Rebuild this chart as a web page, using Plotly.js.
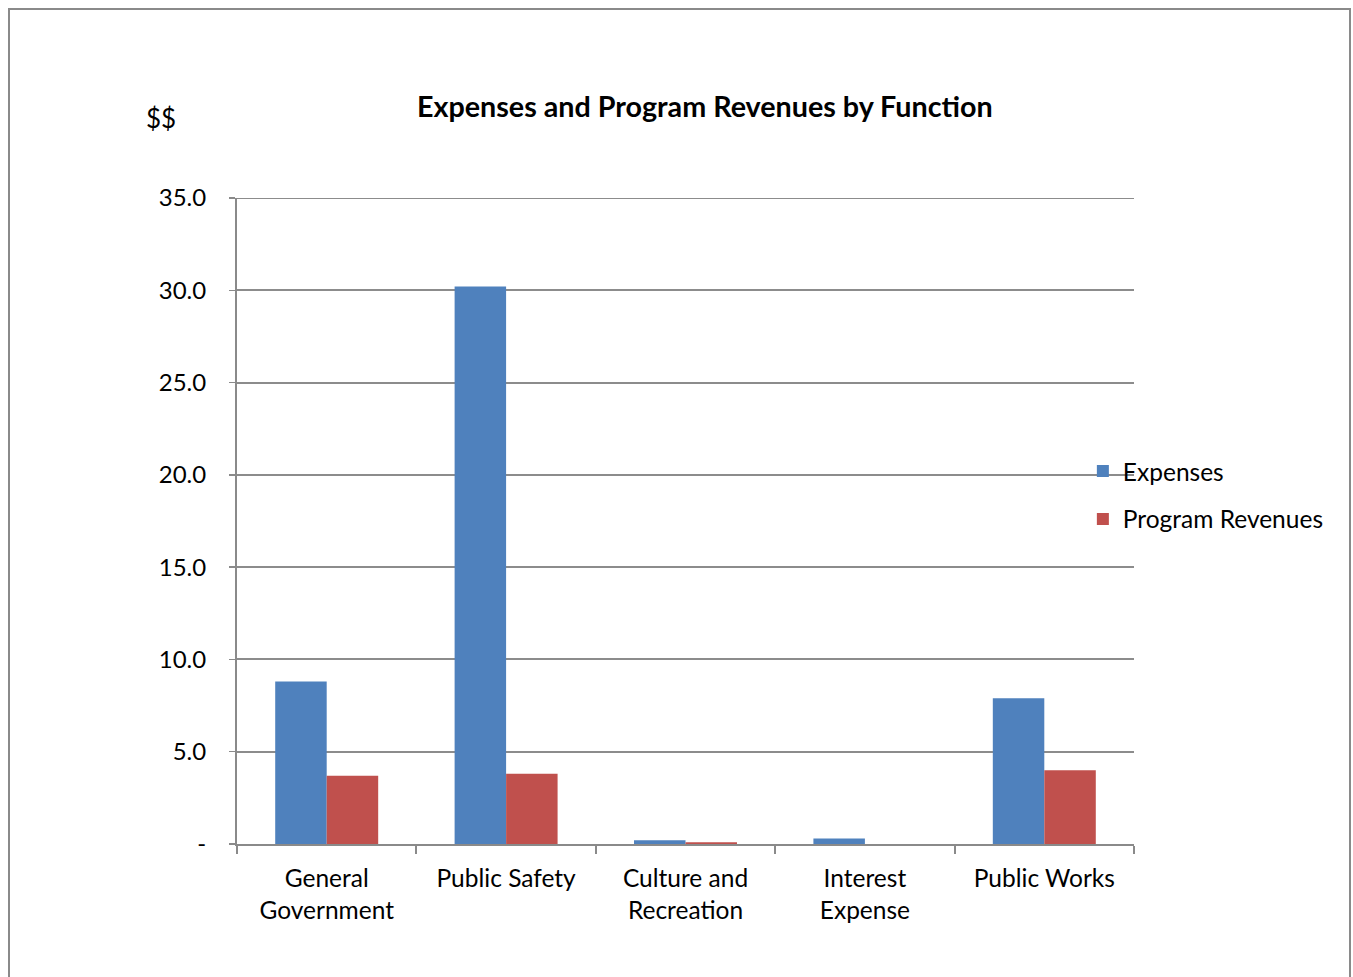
<!DOCTYPE html>
<html>
<head>
<meta charset="utf-8">
<script src="https://cdn.plot.ly/plotly-3.0.1.min.js"></script>
<style>
  html, body { margin: 0; padding: 0; background: #fff; }
  #frame { position: absolute; left: 8px; top: 8px; width: 1343px; height: 990px; border: 2px solid #8a8a8a; box-sizing: border-box; }
  #chart { position: absolute; left: 0; top: 0; width: 1353px; height: 977px; }
</style>
</head>
<body>
<div id="frame"></div>
<div id="chart"></div>
<script>
const categories = ["General<br>Government", "Public Safety", "Culture and<br>Recreation", "Interest<br>Expense", "Public Works"];
const expenses = [8.8, 30.2, 0.2, 0.3, 7.9];
const programRevenues = [3.7, 3.8, 0.1, 0.0, 4.0];
const yTickVals = [0, 5, 10, 15, 20, 25, 30, 35];
const yTickText = ["-", "5.0", "10.0", "15.0", "20.0", "25.0", "30.0", "35.0"];
const yMax = 35;

const FONT = "Lato, 'Open Sans', sans-serif";

const traces = [
  { type: "bar", name: "Expenses", x: categories, y: expenses, legendgroup: "a",
    marker: { color: "#4F81BD" } },
  { type: "bar", name: "Program Revenues", x: categories, y: programRevenues, legendgroup: "b",
    marker: { color: "#C0504D" } }
];

const layout = {
  width: 1353, height: 977,
  margin: { l: 237, r: 219, t: 198, b: 133, pad: 0 },
  paper_bgcolor: "rgba(0,0,0,0)",
  plot_bgcolor: "rgba(0,0,0,0)",
  font: { family: FONT, size: 24, color: "#000" },
  barmode: "group",
  bargap: 0.426,
  bargroupgap: 0,
  showlegend: true,
  legend: {
    x: 0.943, xanchor: "left", y: 0.54, yanchor: "middle",
    bgcolor: "rgba(0,0,0,0)", font: { family: FONT, size: 24.5, color: "#000" },
    traceorder: "grouped", tracegroupgap: 13, itemwidth: 30
  },
  shapes: [
    { type: "line", xref: "paper", yref: "y", x0: 0, x1: 1, y0: yMax, y1: yMax,
      line: { color: "#8c8c8c", width: 2 }, layer: "below" }
  ],
  annotations: [
    { text: "<b>Expenses and Program Revenues by Function</b>", xref: "paper", yref: "paper",
      x: 0.522, y: 1, yshift: 92, xanchor: "center", yanchor: "middle", showarrow: false,
      font: { family: FONT, size: 28.7, color: "#000" } },
    { text: "$$", xref: "paper", yref: "paper", x: 0, xshift: -93, y: 1, yshift: 80,
      xanchor: "left", yanchor: "middle", showarrow: false,
      font: { family: FONT, size: 26, color: "#000" } }
  ],
  xaxis: {
    type: "category",
    showline: true, linecolor: "#8a8a8a", linewidth: 2,
    ticks: "outside", tickson: "boundaries", ticklen: 8, tickcolor: "#8a8a8a", tickwidth: 2,
    showgrid: false, zeroline: false,
    ticklabelstandoff: 12,
    tickfont: { family: FONT, size: 24.5, color: "#000" }
  },
  yaxis: {
    range: [0, yMax], autorange: false,
    tickvals: yTickVals, ticktext: yTickText,
    showline: true, linecolor: "#8a8a8a", linewidth: 2,
    ticks: "outside", ticklen: 6, tickcolor: "#8a8a8a", tickwidth: 1.5,
    showgrid: true, gridcolor: "#8c8c8c", gridwidth: 2,
    zeroline: false,
    ticklabelstandoff: 18,
    tickfont: { family: FONT, size: 24, color: "#000" }
  }
};

Plotly.newPlot("chart", traces, layout, { displayModeBar: false, staticPlot: true });
</script>
</body>
</html>
